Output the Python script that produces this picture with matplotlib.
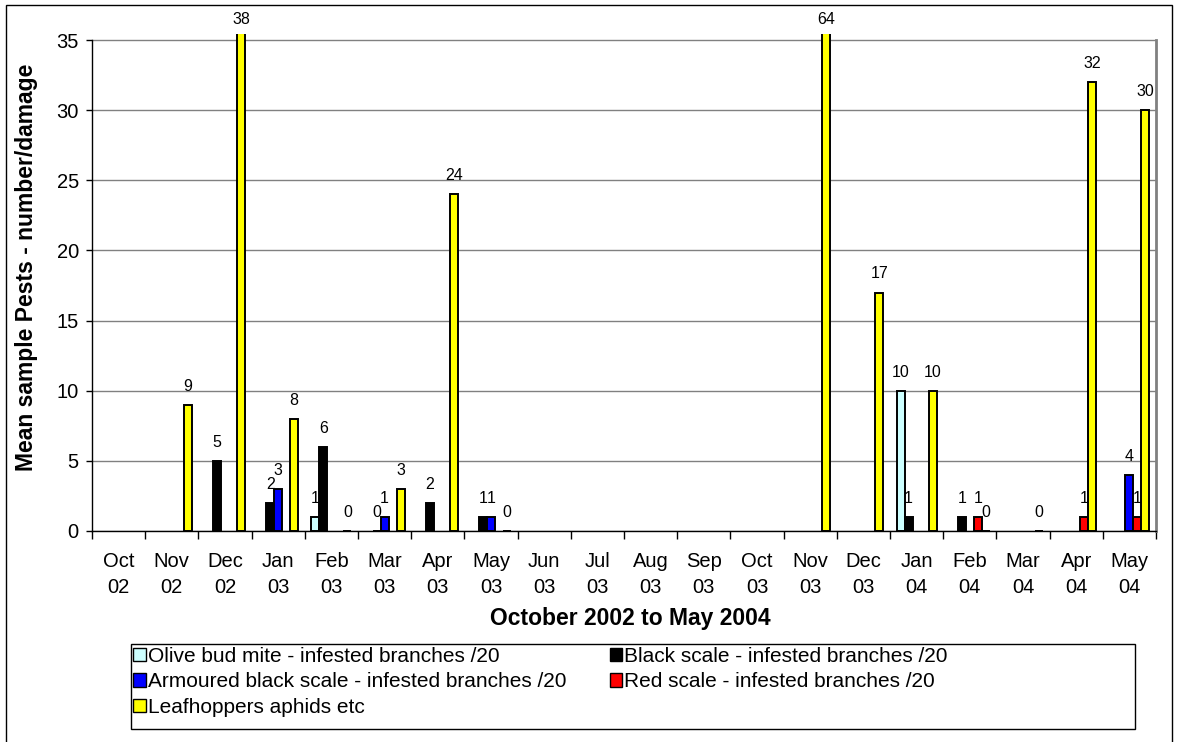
import numpy as np
import matplotlib
matplotlib.use("Agg")
import matplotlib.pyplot as plt
from matplotlib.patches import Rectangle, Patch

plt.rcParams['font.family'] = ['Liberation Sans', 'DejaVu Sans']

nan = np.nan
months = ["Oct\n02", "Nov\n02", "Dec\n02", "Jan\n03", "Feb\n03", "Mar\n03", "Apr\n03",
          "May\n03", "Jun\n03", "Jul\n03", "Aug\n03", "Sep\n03", "Oct\n03", "Nov\n03",
          "Dec\n03", "Jan\n04", "Feb\n04", "Mar\n04", "Apr\n04", "May\n04"]

olive_bud_mite = [nan, nan, nan, nan, 1, nan, nan, nan, nan, nan, nan, nan, nan, nan,
                  nan, 10, nan, nan, nan, nan]
black_scale = [nan, nan, 5, 2, 6, 0, 2, 1, nan, nan, nan, nan, nan, nan,
               nan, 1, 1, nan, nan, nan]
armoured_black_scale = [nan, nan, nan, 3, nan, 1, nan, 1, nan, nan, nan, nan, nan, nan,
                        nan, nan, nan, nan, nan, 4]
red_scale = [nan, nan, nan, nan, nan, nan, nan, nan, nan, nan, nan, nan, nan, nan,
             nan, nan, 1, nan, 1, 1]
leafhoppers = [nan, 9, 38, 8, 0, 3, 24, 0, nan, nan, nan, nan, nan, 64,
               17, 10, 0, 0, 32, 30]

series = [
    ("Olive bud mite - infested branches /20", olive_bud_mite, "#CCFFFF"),
    ("Black scale - infested branches /20", black_scale, "#000000"),
    ("Armoured black scale - infested branches /20", armoured_black_scale, "#0000FF"),
    ("Red scale - infested branches /20", red_scale, "#FF0000"),
    ("Leafhoppers aphids etc", leafhoppers, "#FFFF00"),
]

W, H = 1177, 742
fig = plt.figure(figsize=(W / 100, H / 100), dpi=100)

def fx(px):
    return px / W

def fy(py):
    return 1 - py / H

# outer chart border
fig.patches.append(Rectangle((fx(6), fy(748)), fx(1172) - fx(6), fy(5) - fy(748),
                             transform=fig.transFigure, fill=False, edgecolor="black",
                             linewidth=1.0))

ymax = 35
yclip = 35.4
y0_px, y35_px = 531, 40
top_px = y0_px - (y0_px - y35_px) * yclip / ymax
ax = fig.add_axes([fx(92), fy(y0_px), fx(1156) - fx(92), fy(top_px) - fy(y0_px)])

n = len(months)
x = np.arange(n)
bw = 0.15
handles = []
for i, (name, vals, col) in enumerate(series):
    vals = np.array(vals, dtype=float)
    pos = x + (i - 2) * bw
    ax.bar(pos, vals, width=bw, color=col, edgecolor="black", linewidth=1.4, zorder=3)
    for p, v in zip(pos, vals):
        if np.isnan(v):
            continue
        off = 8 if v <= yclip else 5
        ax.annotate(f"{int(v)}", (p, min(v, yclip)), xytext=(0, off),
                    textcoords="offset points", ha="center", va="bottom",
                    fontsize=11.5, annotation_clip=False, zorder=4)
    handles.append(Patch(facecolor=col, edgecolor="black", linewidth=1.0, label=name))

ax.set_xlim(-0.5, n - 0.5)
ax.set_ylim(0, yclip)
ax.set_yticks(np.arange(0, 36, 5))
ax.yaxis.grid(True, color="#808080", linewidth=1.0, zorder=0)
ax.set_axisbelow(True)
ax.tick_params(axis="y", direction="out", length=4.5, width=1, labelsize=14.5, pad=5)

ax.set_xticks(x)
ax.set_xticklabels(months, linespacing=1.5)
ax.set_xticks(np.arange(-0.5, n, 1), minor=True)
ax.tick_params(axis="x", which="major", length=0, labelsize=14.5, pad=15)
ax.tick_params(axis="x", which="minor", direction="out", length=6, width=1)

ax.spines["top"].set_visible(False)
ax.spines["right"].set_color("#808080")
ax.spines["right"].set_linewidth(2)
ax.spines["right"].set_bounds(0, ymax)
ax.spines["left"].set_linewidth(1)
ax.spines["left"].set_bounds(0, ymax)
ax.spines["bottom"].set_linewidth(1)

fig.text(fx(630), fy(619), "October 2002 to May 2004", ha="center", va="center",
         fontsize=16.5, fontweight="bold")
fig.text(fx(27), fy(267), "Mean sample Pests - number/damage", ha="center", va="center",
         rotation=90, fontsize=16.5, fontweight="bold")

# legend box
fig.patches.append(Rectangle((fx(131), fy(729)), fx(1135) - fx(131), fy(644) - fy(729),
                             transform=fig.transFigure, fill=False, edgecolor="black",
                             linewidth=1.0))
order = [0, 2, 4, 1, 3]
leg = fig.legend([handles[k] for k in order], [series[k][0] for k in order],
                 ncol=2, loc="upper left", bbox_to_anchor=(fx(131), fy(645)),
                 frameon=False, fontsize=15, handlelength=0.6, handleheight=0.6,
                 handletextpad=0.1, labelspacing=0.3, columnspacing=2.1,
                 borderpad=0.1, borderaxespad=0)

fig.savefig("out.png", dpi=100)
